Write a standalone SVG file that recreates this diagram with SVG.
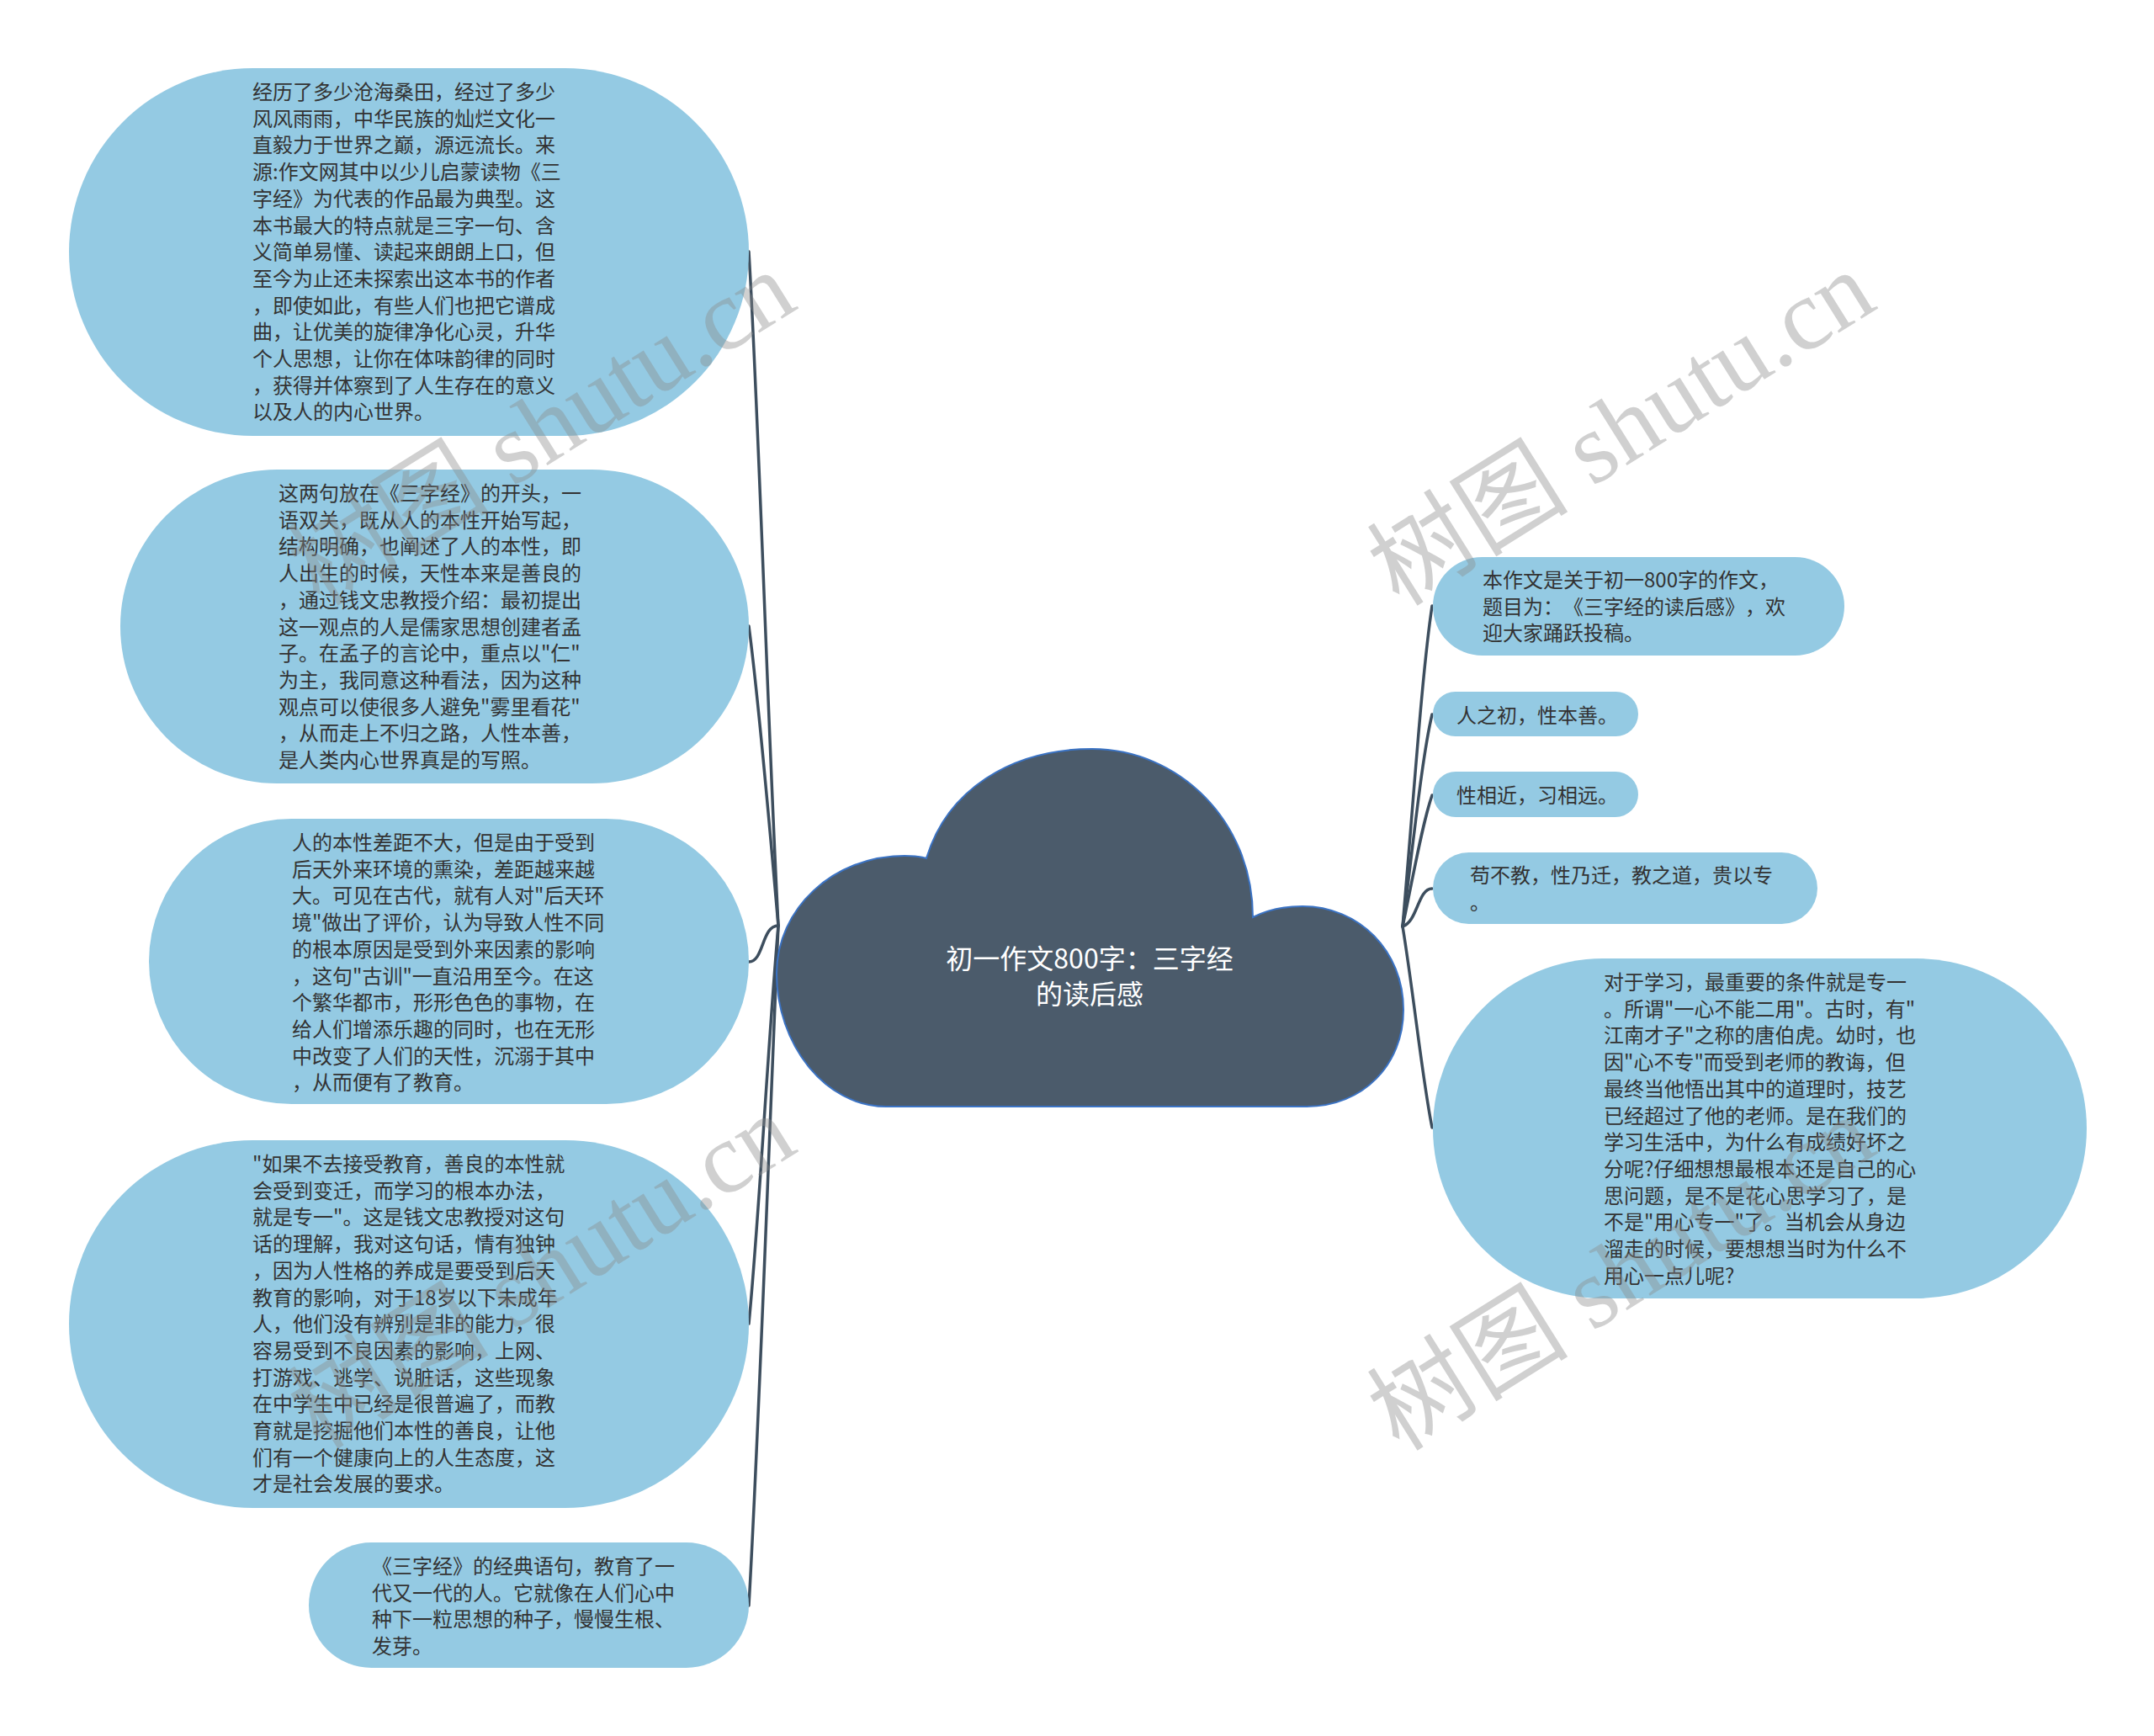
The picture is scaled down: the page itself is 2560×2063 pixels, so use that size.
<svg xmlns="http://www.w3.org/2000/svg" width="2560" height="2063" viewBox="0 0 2560 2063">
<style>
.bub{fill:#94cae3;}
.t{font-family:"Noto Sans CJK SC","Noto Sans",sans-serif;font-size:24px;fill:#333333;text-spacing-trim:space-all;}
.ct{font-family:"Noto Sans CJK SC","Noto Sans",sans-serif;font-size:32px;fill:#ffffff;text-anchor:middle;text-spacing-trim:space-all;}
.con{fill:none;stroke:#3d4e5e;stroke-width:3.5;stroke-linecap:round;}
.wm{font-family:"Liberation Serif","Noto Sans CJK SC",serif;font-size:120px;fill:#8c8c8c;opacity:0.4;}
</style>
<rect width="2560" height="2063" fill="#ffffff"/>
<g id="connectors">
<path class="con" d="M 925 1100 C 912 850, 902 500, 890 299"/>
<path class="con" d="M 925 1100 C 912 950, 900 820, 890 744"/>
<path class="con" d="M 925 1100 C 905 1100, 908 1143, 890 1143"/>
<path class="con" d="M 925 1100 C 912 1250, 902 1450, 890 1573"/>
<path class="con" d="M 925 1100 C 912 1400, 902 1700, 890 1908"/>
<path class="con" d="M 1667 1101 C 1680 950, 1690 800, 1702 720"/>
<path class="con" d="M 1667 1101 C 1680 1000, 1690 900, 1702 849"/>
<path class="con" d="M 1667 1101 C 1680 1040, 1690 980, 1702 945"/>
<path class="con" d="M 1667 1101 C 1685 1095, 1685 1056, 1702 1056"/>
<path class="con" d="M 1667 1101 C 1680 1180, 1690 1280, 1702 1340"/>
</g>
<g id="root">
<path d="M 1053 1315 C 980 1315, 923 1240, 923 1157 C 923 1080, 990 1017, 1075 1017 C 1085 1017, 1095 1018, 1101 1020 C 1125 940, 1200 890, 1298 890 C 1400 890, 1489 975, 1489 1090 C 1505 1082, 1525 1077, 1548 1077 C 1615 1077, 1668 1130, 1668 1200 C 1668 1265, 1620 1315, 1553 1315 Z" fill="#4b5b6b" stroke="#3b73c4" stroke-width="2"/>
<text class="ct" x="1295" y="1151">初一作文800字：三字经</text>
<text class="ct" x="1295" y="1193">的读后感</text>
</g>
<g id="node-l1">
<rect class="bub" x="82" y="81" width="808" height="437" rx="218.5" ry="218.5"/>
<text class="t" x="300" y="118"><tspan x="300" dy="0">经历了多少沧海桑田，经过了多少</tspan><tspan x="300" dy="31.7">风风雨雨，中华民族的灿烂文化一</tspan><tspan x="300" dy="31.7">直毅力于世界之巅，源远流长。来</tspan><tspan x="300" dy="31.7">源:作文网其中以少儿启蒙读物《三</tspan><tspan x="300" dy="31.7">字经》为代表的作品最为典型。这</tspan><tspan x="300" dy="31.7">本书最大的特点就是三字一句、含</tspan><tspan x="300" dy="31.7">义简单易懂、读起来朗朗上口，但</tspan><tspan x="300" dy="31.7">至今为止还未探索出这本书的作者</tspan><tspan x="300" dy="31.7">，即使如此，有些人们也把它谱成</tspan><tspan x="300" dy="31.7">曲，让优美的旋律净化心灵，升华</tspan><tspan x="300" dy="31.7">个人思想，让你在体味韵律的同时</tspan><tspan x="300" dy="31.7">，获得并体察到了人生存在的意义</tspan><tspan x="300" dy="31.7">以及人的内心世界。</tspan></text>
</g>
<g id="node-l2">
<rect class="bub" x="143" y="558" width="747" height="373" rx="186.5" ry="186.5"/>
<text class="t" x="331" y="595"><tspan x="331" dy="0">这两句放在《三字经》的开头，一</tspan><tspan x="331" dy="31.7">语双关，既从人的本性开始写起，</tspan><tspan x="331" dy="31.7">结构明确，也阐述了人的本性，即</tspan><tspan x="331" dy="31.7">人出生的时候，天性本来是善良的</tspan><tspan x="331" dy="31.7">，通过钱文忠教授介绍：最初提出</tspan><tspan x="331" dy="31.7">这一观点的人是儒家思想创建者孟</tspan><tspan x="331" dy="31.7">子。在孟子的言论中，重点以"仁"</tspan><tspan x="331" dy="31.7">为主，我同意这种看法，因为这种</tspan><tspan x="331" dy="31.7">观点可以使很多人避免"雾里看花"</tspan><tspan x="331" dy="31.7">，从而走上不归之路，人性本善，</tspan><tspan x="331" dy="31.7">是人类内心世界真是的写照。</tspan></text>
</g>
<g id="node-l3">
<rect class="bub" x="177" y="973" width="713" height="339" rx="169.5" ry="169.5"/>
<text class="t" x="347" y="1010"><tspan x="347" dy="0">人的本性差距不大，但是由于受到</tspan><tspan x="347" dy="31.7">后天外来环境的熏染，差距越来越</tspan><tspan x="347" dy="31.7">大。可见在古代，就有人对"后天环</tspan><tspan x="347" dy="31.7">境"做出了评价，认为导致人性不同</tspan><tspan x="347" dy="31.7">的根本原因是受到外来因素的影响</tspan><tspan x="347" dy="31.7">，这句"古训"一直沿用至今。在这</tspan><tspan x="347" dy="31.7">个繁华都市，形形色色的事物，在</tspan><tspan x="347" dy="31.7">给人们增添乐趣的同时，也在无形</tspan><tspan x="347" dy="31.7">中改变了人们的天性，沉溺于其中</tspan><tspan x="347" dy="31.7">，从而便有了教育。</tspan></text>
</g>
<g id="node-l4">
<rect class="bub" x="82" y="1355" width="808" height="437" rx="218.5" ry="218.5"/>
<text class="t" x="300" y="1392"><tspan x="300" dy="0">"如果不去接受教育，善良的本性就</tspan><tspan x="300" dy="31.7">会受到变迁，而学习的根本办法，</tspan><tspan x="300" dy="31.7">就是专一"。这是钱文忠教授对这句</tspan><tspan x="300" dy="31.7">话的理解，我对这句话，情有独钟</tspan><tspan x="300" dy="31.7">，因为人性格的养成是要受到后天</tspan><tspan x="300" dy="31.7">教育的影响，对于18岁以下未成年</tspan><tspan x="300" dy="31.7">人，他们没有辨别是非的能力，很</tspan><tspan x="300" dy="31.7">容易受到不良因素的影响，上网、</tspan><tspan x="300" dy="31.7">打游戏、逃学、说脏话，这些现象</tspan><tspan x="300" dy="31.7">在中学生中已经是很普遍了，而教</tspan><tspan x="300" dy="31.7">育就是挖掘他们本性的善良，让他</tspan><tspan x="300" dy="31.7">们有一个健康向上的人生态度，这</tspan><tspan x="300" dy="31.7">才是社会发展的要求。</tspan></text>
</g>
<g id="node-l5">
<rect class="bub" x="367" y="1833" width="523" height="149" rx="74.5" ry="74.5"/>
<text class="t" x="442" y="1870"><tspan x="442" dy="0">《三字经》的经典语句，教育了一</tspan><tspan x="442" dy="31.7">代又一代的人。它就像在人们心中</tspan><tspan x="442" dy="31.7">种下一粒思想的种子，慢慢生根、</tspan><tspan x="442" dy="31.7">发芽。</tspan></text>
</g>
<g id="node-r1">
<rect class="bub" x="1703" y="662" width="489" height="117" rx="58.5" ry="58.5"/>
<text class="t" x="1762" y="698"><tspan x="1762" dy="0">本作文是关于初一800字的作文，</tspan><tspan x="1762" dy="31.7">题目为：《三字经的读后感》，欢</tspan><tspan x="1762" dy="31.7">迎大家踊跃投稿。</tspan></text>
</g>
<g id="node-r2">
<rect class="bub" x="1703" y="822" width="244" height="53" rx="26.5" ry="26.5"/>
<text class="t" x="1731" y="859">人之初，性本善。</text>
</g>
<g id="node-r3">
<rect class="bub" x="1703" y="917" width="244" height="54" rx="27" ry="27"/>
<text class="t" x="1731" y="954">性相近，习相远。</text>
</g>
<g id="node-r4">
<rect class="bub" x="1703" y="1013" width="457" height="85" rx="42.5" ry="42.5"/>
<text class="t" x="1747" y="1049"><tspan x="1747" dy="0">苟不教，性乃迁，教之道，贵以专</tspan><tspan x="1747" dy="31.7">。</tspan></text>
</g>
<g id="node-r5">
<rect class="bub" x="1703" y="1139" width="777" height="404" rx="202" ry="202"/>
<text class="t" x="1906" y="1176"><tspan x="1906" dy="0">对于学习，最重要的条件就是专一</tspan><tspan x="1906" dy="31.7">。所谓"一心不能二用"。古时，有"</tspan><tspan x="1906" dy="31.7">江南才子"之称的唐伯虎。幼时，也</tspan><tspan x="1906" dy="31.7">因"心不专"而受到老师的教诲，但</tspan><tspan x="1906" dy="31.7">最终当他悟出其中的道理时，技艺</tspan><tspan x="1906" dy="31.7">已经超过了他的老师。是在我们的</tspan><tspan x="1906" dy="31.7">学习生活中，为什么有成绩好坏之</tspan><tspan x="1906" dy="31.7">分呢?仔细想想最根本还是自己的心</tspan><tspan x="1906" dy="31.7">思问题，是不是花心思学习了，是</tspan><tspan x="1906" dy="31.7">不是"用心专一"了。当机会从身边</tspan><tspan x="1906" dy="31.7">溜走的时候，要想想当时为什么不</tspan><tspan x="1906" dy="31.7">用心一点儿呢?</tspan></text>
</g>
<g id="watermark">
<text class="wm" x="380" y="722" transform="rotate(-32 380 722)">树图 shutu.cn</text>
<text class="wm" x="1663" y="722" transform="rotate(-32 1663 722)">树图 shutu.cn</text>
<text class="wm" x="380" y="1724" transform="rotate(-32 380 1724)">树图 shutu.cn</text>
<text class="wm" x="1663" y="1726" transform="rotate(-32 1663 1726)">树图 shutu.cn</text>
</g>
</svg>
